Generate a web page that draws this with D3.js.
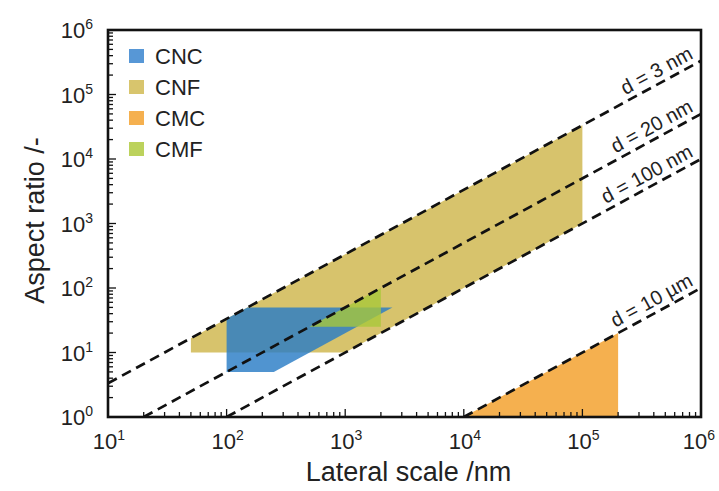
<!DOCTYPE html>
<html>
<head>
<meta charset="utf-8">
<script src="https://cdn.jsdelivr.net/npm/d3@7"></script>
<style>
  html, body { margin: 0; padding: 0; background: #fff; }
  svg { display: block; font-family: "Liberation Sans", Arial, sans-serif; }
</style>
</head>
<body>
<svg id="chart" width="719" height="491"></svg>
<script>
// Axis decades (log10 exponents) for both axes
const xDecades = [1, 2, 3, 4, 5, 6];
const yDecades = [0, 1, 2, 3, 4, 5, 6];

// Constant-diameter guide lines: aspect ratio = length / d (d in nm)
const guideDiameters = [3, 20, 100, 10000];
const guideLabels = ["d = 3 nm", "d = 20 nm", "d = 100 nm", "d = 10 µm"];

// Legend entries
const materials = ["CNC", "CNF", "CMC", "CMF"];
const legendColors = ["#5797D6", "#D8C56D", "#F5B04F", "#BCD25C"];

// Region outlines as [lateral scale nm, aspect ratio]
const cnfRegion = [[50, 10], [50, 50 / 3], [1e5, 1e5 / 3], [1e5, 1000], [1000, 10]];
const cncRegion = [[100, 5], [100, 100 / 3], [150, 50], [2500, 50], [250, 5]];
const cmfRegion = [[500, 25], [2000, 100], [2000, 25]];
const cmcRegion = [[1e4, 1], [2e5, 20], [2e5, 1]];

const svg = d3.select("#chart");
const plotLeft = 108, plotRight = 701, plotTop = 30, plotBottom = 417;

const x = d3.scaleLog().domain([10, 1e6]).range([plotLeft, plotRight]);
const y = d3.scaleLog().domain([1, 1e6]).range([plotBottom, plotTop]);

const defs = svg.append("defs");
defs.append("clipPath").attr("id", "plotClip")
  .append("rect").attr("x", plotLeft).attr("y", plotTop)
  .attr("width", plotRight - plotLeft).attr("height", plotBottom - plotTop);

const plot = svg.append("g").attr("clip-path", "url(#plotClip)");
const line = d3.line().x(d => x(d[0])).y(d => y(d[1]));

// Filled regions
plot.append("path").datum(cnfRegion).attr("d", d => line(d) + "Z")
  .attr("fill", "#D7C36C");
plot.append("path").datum(cncRegion).attr("d", d => line(d) + "Z")
  .attr("fill", "#2A7CC6").attr("fill-opacity", 0.82);
plot.append("path").datum(cmfRegion).attr("d", d => line(d) + "Z")
  .attr("fill", "#A8C838").attr("fill-opacity", 0.78);
plot.append("path").datum(cmcRegion).attr("d", d => line(d) + "Z")
  .attr("fill", "#F5B04F");

// Dashed constant-diameter lines
guideDiameters.forEach(dm => {
  const L0 = Math.max(10, dm);
  const pts = [[L0, L0 / dm], [1e6, 1e6 / dm]];
  plot.append("path").datum(pts).attr("d", line)
    .attr("fill", "none").attr("stroke", "#111")
    .attr("stroke-width", 2.7).attr("stroke-dasharray", "10,6");
});

// Labels along the guide lines
const angle = -Math.atan2(y(1) - y(10), x(100) - x(10)) * 180 / Math.PI;
guideDiameters.forEach((dm, i) => {
  const px = 697;
  const L = x.invert(px);
  const py = y(L / dm);
  svg.append("text")
    .attr("transform", `translate(${px},${py}) rotate(${angle}) translate(0,-6)`)
    .attr("text-anchor", "end")
    .attr("font-size", 20).attr("fill", "#222")
    .text(guideLabels[i]);
});

// Minor and major ticks, drawn inward
const axisG = svg.append("g");
const minorVals = (lo, hi) => {
  const out = [];
  for (let e = lo; e < hi; e++) for (let m = 2; m <= 9; m++) out.push(m * Math.pow(10, e));
  return out;
};
minorVals(1, 6).forEach(v => {
  axisG.append("line").attr("x1", x(v)).attr("x2", x(v))
    .attr("y1", plotBottom).attr("y2", plotBottom - 5).attr("stroke", "#111").attr("stroke-width", 1.3);
});
minorVals(0, 6).forEach(v => {
  axisG.append("line").attr("y1", y(v)).attr("y2", y(v))
    .attr("x1", plotLeft).attr("x2", plotLeft + 5).attr("stroke", "#111").attr("stroke-width", 1.3);
});
xDecades.forEach(e => {
  const v = Math.pow(10, e);
  axisG.append("line").attr("x1", x(v)).attr("x2", x(v))
    .attr("y1", plotBottom).attr("y2", plotBottom - 8).attr("stroke", "#111").attr("stroke-width", 1.3);
});
yDecades.forEach(e => {
  const v = Math.pow(10, e);
  axisG.append("line").attr("y1", y(v)).attr("y2", y(v))
    .attr("x1", plotLeft).attr("x2", plotLeft + 8).attr("stroke", "#111").attr("stroke-width", 1.3);
});

// Frame
svg.append("rect").attr("x", plotLeft).attr("y", plotTop)
  .attr("width", plotRight - plotLeft).attr("height", plotBottom - plotTop)
  .attr("fill", "none").attr("stroke", "#111").attr("stroke-width", 2.6);

// Tick labels with superscript exponents
xDecades.forEach(e => {
  const t = svg.append("text").attr("x", x(Math.pow(10, e)) + (e === 6 ? -2 : 1)).attr("y", 449)
    .attr("text-anchor", "middle").attr("font-size", 22).attr("fill", "#222");
  t.append("tspan").text("10");
  t.append("tspan").attr("font-size", 14).attr("dy", -9).text(e);
});
yDecades.forEach(e => {
  const t = svg.append("text").attr("x", 93).attr("y", y(Math.pow(10, e)) + 8)
    .attr("text-anchor", "end").attr("font-size", 22).attr("fill", "#222");
  t.append("tspan").text("10");
  t.append("tspan").attr("font-size", 14).attr("dy", -9).text(e);
});

// Axis titles
svg.append("text").attr("x", (plotLeft + plotRight) / 2 + 4).attr("y", 481)
  .attr("text-anchor", "middle").attr("font-size", 27).attr("fill", "#222")
  .text("Lateral scale /nm");
svg.append("text")
  .attr("transform", `translate(44,${(plotTop + plotBottom) / 2 - 3}) rotate(-90)`)
  .attr("text-anchor", "middle").attr("font-size", 27).attr("fill", "#222")
  .text("Aspect ratio /-");

// Legend
const legend = svg.append("g");
materials.forEach((m, i) => {
  const cy = 56 + i * 31;
  legend.append("rect").attr("x", 129).attr("y", cy - 7).attr("width", 15).attr("height", 14)
    .attr("fill", legendColors[i]);
  legend.append("text").attr("x", 155).attr("y", cy + 8)
    .attr("font-size", 22).attr("fill", "#222").text(m);
});
</script>
</body>
</html>
